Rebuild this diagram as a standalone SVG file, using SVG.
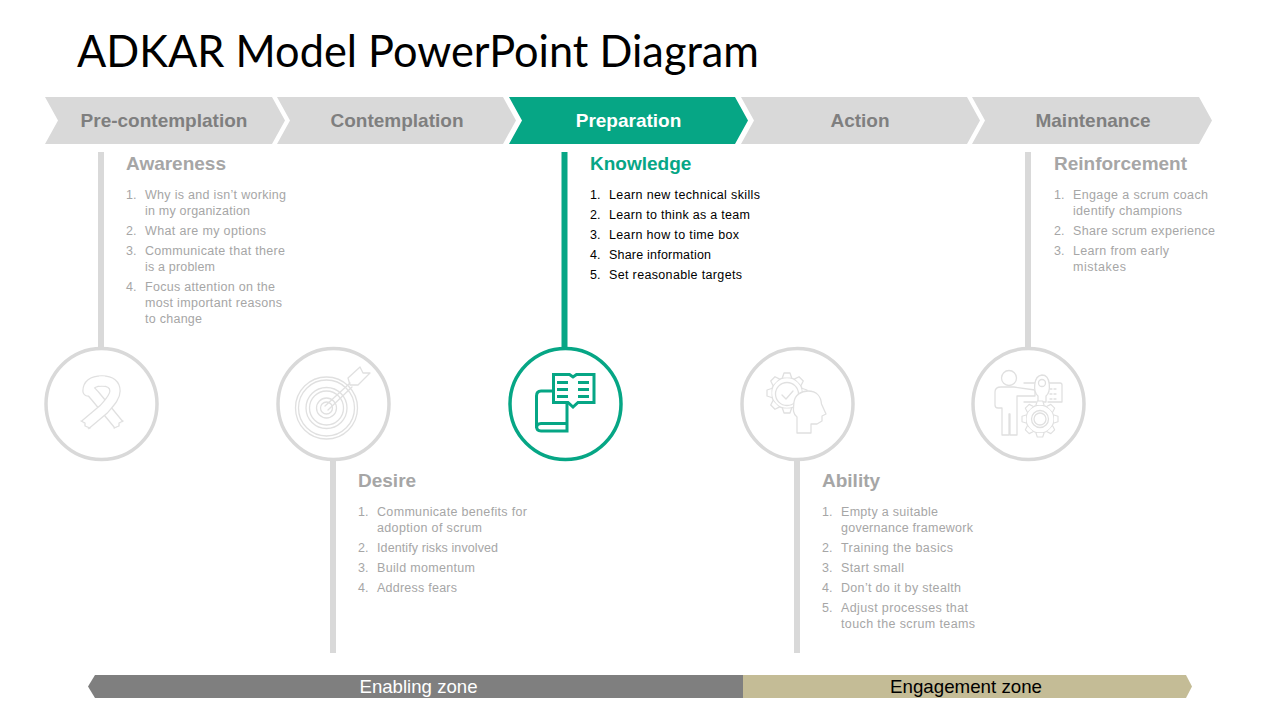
<svg xmlns="http://www.w3.org/2000/svg" xmlns:xlink="http://www.w3.org/1999/xlink" width="1280" height="720" viewBox="0 0 1280 720">
<style>
text{font-family:"Liberation Sans",Arial,sans-serif}
.title{font-family:Lato,"Liberation Sans",sans-serif;font-size:44px;fill:#000}
.chev{fill:#d9d9d9}
.chevT{font-size:19px;font-weight:700;fill:#7f7f7f;text-anchor:middle}
.head{font-size:19px;font-weight:700;fill:#a6a6a6}
.li{font-size:12.5px;fill:#a6a6a6}
.on .chev{fill:#06a685}
.on .chevT{fill:#fff}
.on .head{fill:#06a685}
.on .li{fill:#000}
.ring{fill:#fff;stroke:#d9d9d9;stroke-width:3.5}
.on .ring{stroke:#06a685}
.stem{stroke:#d9d9d9;stroke-width:6;fill:none}
.ic{fill:none;stroke:#e0e0e0;stroke-width:1.3;stroke-linejoin:round;stroke-linecap:round}
.icf{fill:#fff}
.icon{fill:none;stroke:#06a685;stroke-width:3;stroke-linejoin:miter}
.zone{font-size:19px;text-anchor:middle}
</style>
<defs>
<path id="tooth" d="M-4.500 -15.500L-3 -20H3L4.500 -15.500" fill="#fff"/>
<g id="gear">
<circle r="15.500"/>
<use xlink:href="#tooth"/><use xlink:href="#tooth" transform="rotate(45)"/><use xlink:href="#tooth" transform="rotate(90)"/><use xlink:href="#tooth" transform="rotate(135)"/><use xlink:href="#tooth" transform="rotate(180)"/><use xlink:href="#tooth" transform="rotate(225)"/><use xlink:href="#tooth" transform="rotate(270)"/><use xlink:href="#tooth" transform="rotate(315)"/>
</g>
</defs>
<text class="title" x="77" y="67" textLength="682" lengthAdjust="spacingAndGlyphs">ADKAR Model PowerPoint Diagram</text>

<g id="connectors">
<line class="stem" x1="101" y1="152" x2="101" y2="348"/>
<line class="stem" x1="333" y1="459" x2="333" y2="653"/>
<line x1="564.500" y1="152" x2="564.500" y2="348" stroke="#06a685" stroke-width="6"/>
<line class="stem" x1="797" y1="459" x2="797" y2="653"/>
<line class="stem" x1="1028" y1="152" x2="1028" y2="348"/>
</g>

<g id="node-precontemplation">
<polygon class="chev" points="45,97 272,97 285,120.500 272,144 45,144 58,120.500"/>
<text class="chevT" x="164" y="127">Pre-contemplation</text>
<text class="head" x="126" y="170">Awareness</text>
<g class="li">
<text x="126" y="198.500">1.</text><text x="145" y="198.500" textLength="141">Why is and isn’t working</text>
<text x="145" y="214.500" textLength="105">in my organization</text>
<text x="126" y="234.500">2.</text><text x="145" y="234.500" textLength="121">What are my options</text>
<text x="126" y="254.500">3.</text><text x="145" y="254.500" textLength="140">Communicate that there</text>
<text x="145" y="270.500" textLength="70">is a problem</text>
<text x="126" y="290.500">4.</text><text x="145" y="290.500" textLength="130">Focus attention on the</text>
<text x="145" y="306.500" textLength="137">most important reasons</text>
<text x="145" y="322.500" textLength="57">to change</text>
</g>
<circle class="ring" cx="101.500" cy="404" r="55.500"/>
<g class="ic">
<path d="M119 425L96 397C90 390 88 388 88 391C88 385 92 381 102 381" fill="none" stroke="#e0e0e0" stroke-width="11.500" stroke-linecap="butt"/>
<path d="M119 425L96 397C91 391 88 388 88 391C88 385 92 381 102 381" fill="none" stroke="#fff" stroke-width="9" stroke-linecap="butt"/>
<path d="M102 381C111 381 115 385 115 391C115 397 110 402 104 409L85 425" fill="none" stroke="#e0e0e0" stroke-width="11.500" stroke-linecap="butt"/>
<path d="M102 381C111 381 115 385 115 391C115 397 110 402 104 409L85 425" fill="none" stroke="#fff" stroke-width="9" stroke-linecap="butt"/>
<path d="M99 381H105" fill="none" stroke="#fff" stroke-width="9" stroke-linecap="butt"/>
<path d="M81 421L85 423L85 426L90 428M123 421L119 423L119 426L114 428"/>
</g>
</g>

<g id="node-contemplation">
<polygon class="chev" points="277,97 503,97 516,120.500 503,144 277,144 290,120.500"/>
<text class="chevT" x="397" y="127">Contemplation</text>
<circle class="ring" cx="333.500" cy="404" r="55.500"/>
<g class="ic">
<circle cx="326.500" cy="408" r="31"/><circle cx="326.500" cy="408" r="28"/>
<circle cx="326.500" cy="408" r="20.500"/><circle cx="326.500" cy="408" r="17"/>
<circle cx="326.500" cy="408" r="10"/><circle cx="326.500" cy="408" r="6"/>
<path d="M325 406L350 383M328 410L352 387M350 385L348 378L360 367L363 373L370 373L358 385Z" class="icf"/>
</g>
<text class="head" x="358" y="487">Desire</text>
<g class="li">
<text x="358" y="515.500">1.</text><text x="377" y="515.500" textLength="150">Communicate benefits for</text>
<text x="377" y="531.500" textLength="105">adoption of scrum</text>
<text x="358" y="551.500">2.</text><text x="377" y="551.500" textLength="121">Identify risks involved</text>
<text x="358" y="571.500">3.</text><text x="377" y="571.500" textLength="98">Build momentum</text>
<text x="358" y="591.500">4.</text><text x="377" y="591.500" textLength="80">Address fears</text>
</g>
</g>

<g id="node-preparation" class="on">
<polygon class="chev" points="509,97 735,97 748,120.500 735,144 509,144 522,120.500"/>
<text class="chevT" x="628.500" y="127">Preparation</text>
<text class="head" x="590" y="170">Knowledge</text>
<g class="li">
<text x="590" y="198.500">1.</text><text x="609" y="198.500" textLength="151">Learn new technical skills</text>
<text x="590" y="218.500">2.</text><text x="609" y="218.500" textLength="141">Learn to think as a team</text>
<text x="590" y="238.500">3.</text><text x="609" y="238.500" textLength="130">Learn how to time box</text>
<text x="590" y="258.500">4.</text><text x="609" y="258.500" textLength="102">Share information</text>
<text x="590" y="278.500">5.</text><text x="609" y="278.500" textLength="133">Set reasonable targets</text>
</g>
<circle class="ring" cx="565.500" cy="404" r="55.500"/>
<g class="icon">
<path d="M552 391H541Q536.500 391 536.500 396V426Q536.500 431 541 431H567V403"/>
<path d="M536.500 428Q536.500 423.500 541 423.500H567"/>
<path d="M553.500 374.500H569.500L573 377L576.500 374.500H594V402.500H578L573 407L568 402.500H553.500Z"/>
<path d="M557 382.500H568M557 389.500H568M557 396.500H568M578 382.500H589M578 389.500H589M578 396.500H589" stroke-width="3"/>
</g>
</g>

<g id="node-action">
<polygon class="chev" points="741,97 967,97 980,120.500 967,144 741,144 754,120.500"/>
<text class="chevT" x="860" y="127">Action</text>
<circle class="ring" cx="797.500" cy="404" r="55.500"/>
<g class="ic">
<use xlink:href="#gear" transform="translate(787 393)"/>
<circle cx="787" cy="394" r="11.500"/>
<path d="M782 395L786 399L793 391"/>
<path class="icf" d="M797 433V417C792 413 793.500 408 794 402C795 395 801 391 808 391C817 391 821 397 821.500 404L826 414L822 416V421L817 424H811V433Z"/>
</g>
<text class="head" x="822" y="487">Ability</text>
<g class="li">
<text x="822" y="515.500">1.</text><text x="841" y="515.500" textLength="97">Empty a suitable</text>
<text x="841" y="531.500" textLength="132">governance framework</text>
<text x="822" y="551.500">2.</text><text x="841" y="551.500" textLength="112">Training the basics</text>
<text x="822" y="571.500">3.</text><text x="841" y="571.500" textLength="63">Start small</text>
<text x="822" y="591.500">4.</text><text x="841" y="591.500" textLength="120">Don’t do it by stealth</text>
<text x="822" y="611.500">5.</text><text x="841" y="611.500" textLength="127">Adjust processes that</text>
<text x="841" y="627.500" textLength="134">touch the scrum teams</text>
</g>
</g>

<g id="node-maintenance">
<polygon class="chev" points="972,97 1199,97 1212,120.500 1199,144 972,144 985,120.500"/>
<text class="chevT" x="1093" y="127">Maintenance</text>
<text class="head" x="1054" y="170">Reinforcement</text>
<g class="li">
<text x="1054" y="198.500">1.</text><text x="1073" y="198.500" textLength="135">Engage a scrum coach</text>
<text x="1073" y="214.500" textLength="109">identify champions</text>
<text x="1054" y="234.500">2.</text><text x="1073" y="234.500" textLength="142">Share scrum experience</text>
<text x="1054" y="254.500">3.</text><text x="1073" y="254.500" textLength="96">Learn from early</text>
<text x="1073" y="270.500" textLength="53">mistakes</text>
</g>
<circle class="ring" cx="1028.500" cy="404" r="55.500"/>
<g class="ic">
<path d="M1024 383H1060Q1062 383 1062 385V402H1048M1024 402H1036" stroke-dasharray="none"/>
<path d="M1050 389H1058M1050 394H1058M1050 399H1058" stroke-dasharray="2 2"/>
<circle cx="1009" cy="378" r="7.500"/>
<path class="icf" d="M1002 435V408H998Q995 408 995 405V392Q995 387 1001 387H1014L1035 390V396H1017V435H1010V414H1009V435Z"/>
<path class="icf" d="M1038 396C1033 392 1033 376 1042 375C1051 375 1051 392 1046 396V402H1038Z"/>
<circle cx="1042" cy="383" r="3.500"/>
<use xlink:href="#gear" transform="translate(1040 419) scale(.9)"/>
<circle cx="1040" cy="419" r="8.500"/><circle cx="1040" cy="419" r="6"/>
</g>
</g>

<g id="node-enabling-zone">
<polygon points="743,675 95,675 88,686.500 95,698 743,698" fill="#7f7f7f"/>
<text class="zone" x="418.500" y="692.500" fill="#fff" textLength="118" lengthAdjust="spacingAndGlyphs">Enabling zone</text>
</g>
<g id="node-engagement-zone">
<polygon points="743,675 1186,675 1192,686.500 1186,698 743,698" fill="#c4bc96"/>
<text class="zone" x="966" y="692.500" fill="#000" textLength="152" lengthAdjust="spacingAndGlyphs">Engagement zone</text>
</g>
</svg>
